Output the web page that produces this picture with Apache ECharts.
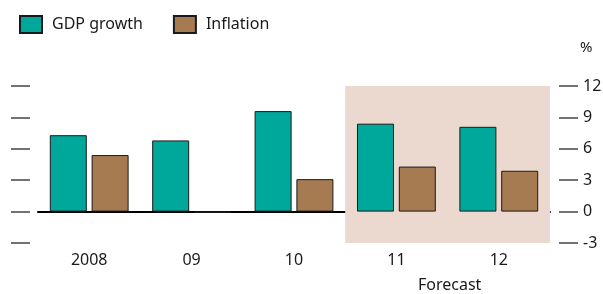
<!DOCTYPE html>
<html><head><meta charset="utf-8">
<script src="https://cdn.jsdelivr.net/npm/echarts@6/dist/echarts.min.js"></script>
<style>html,body{margin:0;padding:0;background:#fff}#c{width:603px;height:294px}</style>
</head><body><div id="c"></div>
<script>
const categories = ['2008', '09', '10', '11', '12'];
const gdpGrowth = [7.3, 6.8, 9.6, 8.4, 8.1];
const inflation = [5.4, -0.1, 3.1, 4.3, 3.9];
const yTicks = [-3, 0, 3, 6, 9, 12];
const forecastStartIndex = 3;

const FONT = 'Noto Sans';
const chart = echarts.init(document.getElementById('c'), null, {renderer: 'canvas'});
const yMin = yTicks[0], yMax = yTicks[yTicks.length - 1], yStep = yTicks[1] - yTicks[0];
const barBorder = {borderColor: '#1a1a1a', borderWidth: 1};
const tickStyle = {show: true, length: 19, lineStyle: {color: '#444', width: 1.5}};

chart.setOption({
  animation: false,
  textStyle: {fontFamily: FONT},
  legend: {
    left: 19, top: 15, padding: 0, itemWidth: 22, itemHeight: 17, itemGap: 30, icon: 'rect',
    textStyle: {fontFamily: FONT, fontSize: 16, color: '#1a1a1a', padding: [0, 0, 0, 5]},
    data: ['GDP growth', 'Inflation']
  },
  grid: [
    {left: 38, right: 53, top: 86, bottom: 51, outerBoundsMode: 'none', containLabel: false},
    {left: 30, right: 44, top: 86, bottom: 51, outerBoundsMode: 'none', containLabel: false}
  ],
  graphic: [
    {type: 'text', left: 580, top: 40, style: {text: '%', font: '15px "Noto Sans"', fill: '#1a1a1a'}},
    {type: 'text', left: 418, top: 277, style: {text: 'Forecast', font: '16px "Noto Sans"', fill: '#1a1a1a'}}
  ],
  xAxis: [{
    type: 'category', data: categories, gridIndex: 0,
    axisLine: {onZero: true, lineStyle: {color: '#000', width: 2}},
    axisTick: {inside: true, length: 4, lineStyle: {color: '#000', width: 1}},
    axisLabel: {margin: 9, fontSize: 16, color: '#1a1a1a', fontFamily: FONT},
    splitLine: {show: false}
  }, {
    type: 'value', min: 0, max: categories.length, show: false, gridIndex: 0
  }, {
    type: 'value', min: 0, max: 1, show: false, gridIndex: 1
  }],
  yAxis: [{
    type: 'value', min: yMin, max: yMax, interval: yStep, gridIndex: 0, show: false
  }, {
    type: 'value', min: yMin, max: yMax, interval: yStep, position: 'left', gridIndex: 1,
    axisLine: {show: false}, axisTick: tickStyle,
    axisLabel: {show: false}, splitLine: {show: false}
  }, {
    type: 'value', min: yMin, max: yMax, interval: yStep, position: 'right', gridIndex: 1,
    axisLine: {show: false}, axisTick: tickStyle,
    axisLabel: {show: true, margin: 24, fontSize: 16, color: '#1a1a1a', fontFamily: FONT},
    splitLine: {show: false}
  }],
  series: [{
    name: 'forecast-shade', type: 'line', xAxisIndex: 1, yAxisIndex: 0, data: [], silent: true,
    markArea: {silent: true, itemStyle: {color: '#ebd8cf'},
      data: [[{xAxis: forecastStartIndex}, {xAxis: categories.length}]]}
  }, {
    name: 'GDP growth', type: 'bar', data: gdpGrowth, barWidth: 37, barGap: '13%',
    xAxisIndex: 0, yAxisIndex: 0,
    itemStyle: Object.assign({color: '#00a89c'}, barBorder), z: 3
  }, {
    name: 'Inflation', type: 'bar', data: inflation, barWidth: 37,
    xAxisIndex: 0, yAxisIndex: 0,
    itemStyle: Object.assign({color: '#a67b52'}, barBorder), z: 3
  }]
});
</script></body></html>
